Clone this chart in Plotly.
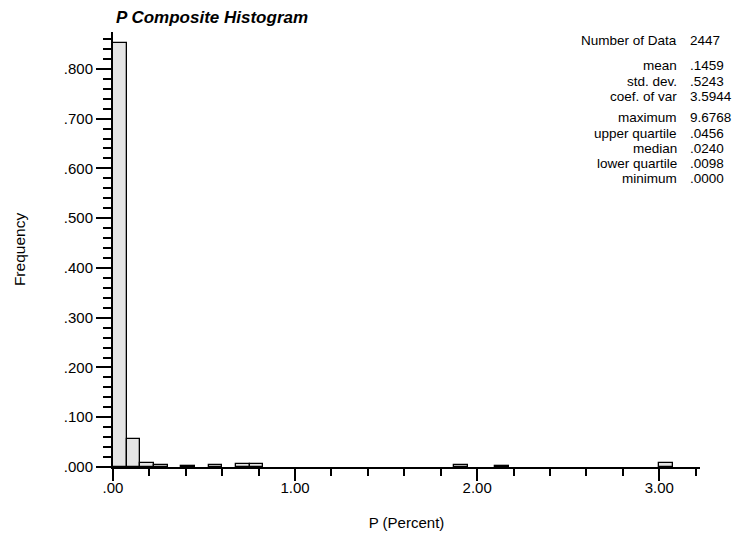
import plotly.graph_objects as go

# Histogram of P (Percent), fixed-width bins starting at 0
bin_width = 0.075
bin_starts = [0.000, 0.075, 0.150, 0.225, 0.375, 0.525, 0.675, 0.750, 1.875, 2.100, 3.000]
frequencies = [0.852, 0.056, 0.0076, 0.005, 0.003, 0.004, 0.006, 0.006, 0.005, 0.003, 0.008]

# Summary statistics, in three groups
stat_names = ["Number of Data", "mean", "std. dev.", "coef. of var",
              "maximum", "upper quartile", "median", "lower quartile", "minimum"]
stat_values = ["2447", ".1459", ".5243", "3.5944",
               "9.6768", ".0456", ".0240", ".0098", ".0000"]
stat_groups = [0, 1, 1, 1, 2, 2, 2, 2, 2]

# Axis tick labels
x_tick_vals = [0, 1, 2, 3]
x_tick_text = [".00", "1.00", "2.00", "3.00"]
y_tick_vals = [0.0, 0.1, 0.2, 0.3, 0.4, 0.5, 0.6, 0.7, 0.8]
y_tick_text = [".000", ".100", ".200", ".300", ".400", ".500", ".600", ".700", ".800"]

FONT = "Liberation Sans, Arial, Helvetica, sans-serif"
W, H = 744, 536
M_L, M_R, M_T, M_B = 113, 44, 32, 69
X_MAX, Y_MAX = 3.224, 0.874

fig = go.Figure()
fig.add_trace(go.Bar(
    x=[s + bin_width / 2 for s in bin_starts],
    y=frequencies,
    width=bin_width,
    marker=dict(color="#e4e4e4", line=dict(color="black", width=1.3)),
    hoverinfo="x+y",
))

axis_common = dict(
    showline=True, linecolor="black", linewidth=2,
    ticks="outside", tickcolor="black", tickwidth=2,
    showgrid=False, zeroline=False,
    tickfont=dict(family=FONT, size=15, color="black"),
)

fig.update_xaxes(
    range=[0, X_MAX], tickvals=x_tick_vals, ticktext=x_tick_text, ticklen=12,
    ticklabelstandoff=-6,
    minor=dict(dtick=0.2, tick0=0, ticks="outside", ticklen=7, tickwidth=2,
               tickcolor="black", showgrid=False),
    title=dict(text="P (Percent)", font=dict(family=FONT, size=15, color="black"),
               standoff=22),
    **axis_common,
)
fig.update_yaxes(
    range=[0, Y_MAX], tickvals=y_tick_vals, ticktext=y_tick_text, ticklen=15,
    minor=dict(dtick=0.02, tick0=0, ticks="outside", ticklen=8, tickwidth=2,
               tickcolor="black", showgrid=False),
    title=dict(text="Frequency", font=dict(family=FONT, size=15.5, color="black"),
               standoff=34),
    **axis_common,
)

# Statistics block: names right-aligned, values left-aligned
plot_w = W - M_L - M_R
plot_h = H - M_T - M_B
row_step, first_row = 15.2, 40
group_gaps = {1: 10.8, 2: 6.3}   # extra space before each new group
py = first_row
prev_group = stat_groups[0]
for i, (name, val, grp) in enumerate(zip(stat_names, stat_values, stat_groups)):
    if i > 0:
        py += row_step + (group_gaps[grp] if grp != prev_group else 0)
    prev_group = grp
    yp = (H - M_B - py) / plot_h
    fig.add_annotation(x=(678 - M_L) / plot_w, y=yp, xref="paper", yref="paper",
                       text=name, showarrow=False, xanchor="right", yanchor="middle",
                       borderpad=0,
                       font=dict(family=FONT, size=13.5, color="black"))
    fig.add_annotation(x=(689 - M_L) / plot_w, y=yp, xref="paper", yref="paper",
                       text=val, showarrow=False, xanchor="left", yanchor="middle",
                       borderpad=0,
                       font=dict(family=FONT, size=13.5, color="black"))

fig.update_layout(
    width=W, height=H,
    margin=dict(l=M_L, r=M_R, t=M_T, b=M_B, autoexpand=False),
    paper_bgcolor="white", plot_bgcolor="white",
    showlegend=False,
    bargap=0,
    title=dict(text="<b><i>P Composite Histogram</i></b>",
               x=116 / W, xanchor="left", y=1 - 17 / H, yanchor="middle",
               font=dict(family=FONT, size=17, color="black")),
)

fig.write_html("out.html")
